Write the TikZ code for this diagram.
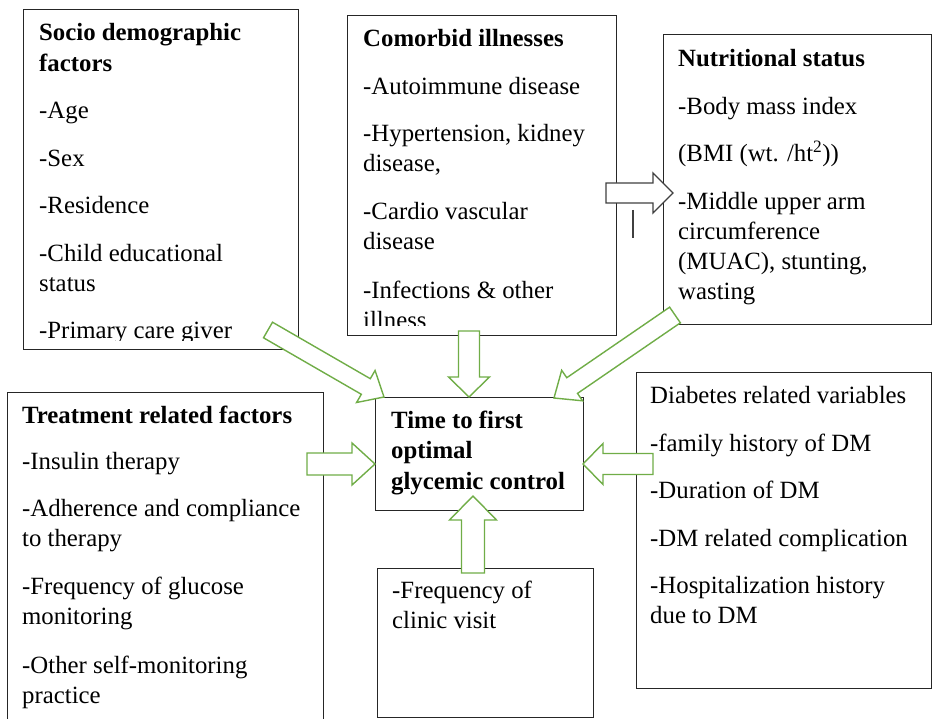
\documentclass[tikz,border=0pt]{standalone}
\usepackage{fontspec}
\setmainfont{Liberation Serif}
\usetikzlibrary{calc}
\definecolor{agreen}{HTML}{70AD47}
\definecolor{boxline}{HTML}{262626}
\definecolor{garrow}{HTML}{404040}
\newcommand{\blkarrow}[6]{%
  \coordinate (sh) at ($(#3)!#6!(#2)$);
  \draw[#1] ($(#2)!#4!90:(#3)$) -- ($(sh)!#4!90:(#3)$) -- ($(sh)!#5!90:(#3)$) -- (#3)
    -- ($(sh)!#5!-90:(#3)$) -- ($(sh)!#4!-90:(#3)$) -- ($(#2)!#4!-90:(#3)$) -- cycle;
}
\tikzset{
  box/.style={draw=boxline, line width=1.3pt, fill=white, anchor=north west, inner sep=0pt, rectangle},
  txt/.style={anchor=base west, inner sep=0pt, yshift=-1.5pt, text=black, font=\fontsize{24.8}{31}\selectfont},
  btxt/.style={txt, font=\fontsize{24.8}{31}\selectfont\bfseries},
  garr/.style={draw=agreen, line width=1.4pt, fill=white, line join=miter},
  grarr/.style={draw=garrow, line width=1.4pt, fill=white, line join=miter},
}
\begin{document}
\begin{tikzpicture}[x=1pt,y=-1pt]
\useasboundingbox (0,0) rectangle (935,719);
% boxes
\node[box, minimum width=275pt, minimum height=340pt] (socio) at (23,9) {};
\node[box, minimum width=269pt, minimum height=320pt] (comor) at (347,15) {};
\node[box, minimum width=268pt, minimum height=290pt] (nutr) at (663,34) {};
\node[box, minimum width=316pt, minimum height=340pt] (treat) at (7,392) {};
\node[box, minimum width=208pt, minimum height=113pt] (time) at (375,397) {};
\node[box, minimum width=216pt, minimum height=149pt] (freq) at (377,568) {};
\node[box, minimum width=295pt, minimum height=316pt] (diab) at (636,372) {};
% socio text
\begin{scope}
\clip (23,9) rectangle (298,341);
\node[btxt] (s1) at (39,39) {Socio demographic};
\node[btxt] (s2) at (39,70) {factors};
\node[txt] (s3) at (39,117) {-Age};
\node[txt] (s4) at (39,165) {-Sex};
\node[txt] (s5) at (39,212) {-Residence};
\node[txt] (s6) at (39,260) {-Child educational};
\node[txt] (s7) at (39,290) {status};
\node[txt] (s8) at (39,337) {-Primary care giver};
\end{scope}
% comorbid text
\begin{scope}
\clip (347,15) rectangle (616,326);
\node[btxt] (c1) at (363,45) {Comorbid illnesses};
\node[txt] (c2) at (363,93) {-Autoimmune disease};
\node[txt] (c3) at (363,140) {-Hypertension, kidney};
\node[txt] (c4) at (363,170) {disease,};
\node[txt] (c5) at (363,218) {-Cardio vascular};
\node[txt] (c6) at (363,248) {disease};
\node[txt] (c7) at (363,297) {-Infections \& other};
\node[txt] (c8) at (363,327) {illness};
\end{scope}
% nutritional text
\node[btxt] (n1) at (678,65) {Nutritional status};
\node[txt] (n2) at (678,113) {-Body mass index};
\node[txt] (n3) at (678,160) {(BMI (wt. /ht\textsuperscript{2}))};
\node[txt] (n4) at (678,208) {-Middle upper arm};
\node[txt] (n5) at (678,238) {circumference};
\node[txt] (n6) at (678,268) {(MUAC), stunting,};
\node[txt] (n7) at (678,298) {wasting};
% treatment text
\node[btxt] (r1) at (22,422) {Treatment related factors};
\node[txt] (r2) at (22,468) {-Insulin therapy};
\node[txt] (r3) at (22,515) {-Adherence and compliance};
\node[txt] (r4) at (22,545) {to therapy};
\node[txt] (r5) at (22,593) {-Frequency of glucose};
\node[txt] (r6) at (22,623) {monitoring};
\node[txt] (r7) at (22,672) {-Other self-monitoring};
\node[txt] (r8) at (22,702) {practice};
% time text
\node[btxt] (m1) at (391,427) {Time to first};
\node[btxt] (m2) at (391,457) {optimal};
\node[btxt] (m3) at (391,488) {glycemic control};
% frequency text
\node[txt] (f1) at (392,597) {-Frequency of};
\node[txt] (f2) at (392,627) {clinic visit};
% diabetes text
\node[txt] (d1) at (650,402) {Diabetes related variables};
\node[txt] (d2) at (650,450) {-family history of DM};
\node[txt] (d3) at (650,497) {-Duration of DM};
\node[txt] (d4) at (650,545) {-DM related complication};
\node[txt] (d5) at (650,592) {-Hospitalization history};
\node[txt] (d6) at (650,622) {due to DM};
% arrow ends
\coordinate (a1t) at (268,330); \coordinate (a1p) at (384,397);
\coordinate (a2t) at (469,331); \coordinate (a2p) at (469,397);
\coordinate (a3t) at (675,315); \coordinate (a3p) at (554,398);
\coordinate (a4t) at (307,464); \coordinate (a4p) at (375,464);
\coordinate (a5t) at (653,464); \coordinate (a5p) at (583,464);
\coordinate (a6t) at (473,573); \coordinate (a6p) at (473,496);
\coordinate (a7t) at (606,193); \coordinate (a7p) at (673,193);
\blkarrow{garr}{a1t}{a1p}{9pt}{18.5pt}{21pt}
\blkarrow{garr}{a2t}{a2p}{10.5pt}{20.5pt}{20pt}
\blkarrow{garr}{a3t}{a3p}{9.5pt}{18.5pt}{22pt}
\blkarrow{garr}{a4t}{a4p}{11pt}{21pt}{23pt}
\blkarrow{garr}{a5t}{a5p}{10.5pt}{20.5pt}{20pt}
\blkarrow{garr}{a6t}{a6p}{11.5pt}{23.5pt}{24pt}
\blkarrow{grarr}{a7t}{a7p}{10pt}{20pt}{20pt}
% small stray mark
\coordinate (m1a) at (633,210); \coordinate (m1b) at (633,238);
\draw[draw=garrow, line width=1.3pt] (m1a) -- (m1b);
\end{tikzpicture}
\end{document}
